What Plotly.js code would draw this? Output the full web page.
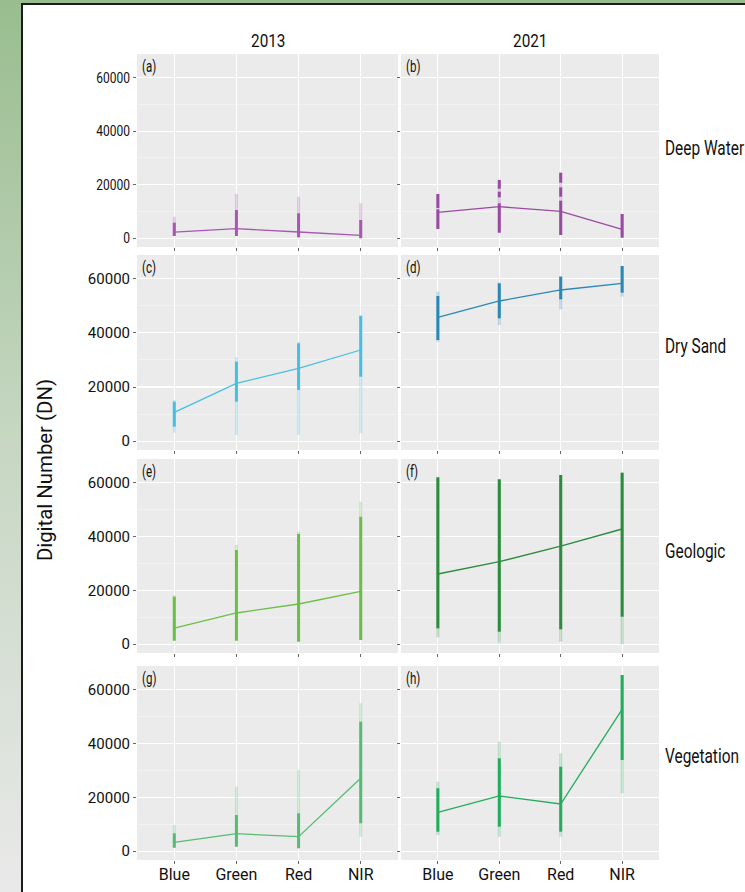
<!DOCTYPE html>
<html>
<head>
<meta charset="utf-8">
<script src="https://cdn.plot.ly/plotly-3.0.1.min.js"></script>
<style>
  html, body { margin: 0; padding: 0; width: 745px; height: 892px; overflow: hidden; }
  #bg { position: absolute; left: 0; top: 0; width: 745px; height: 892px;
        background: linear-gradient(#99bd8f 0%, #c5d6c1 48%, #e9e9e9 100%); }
  #sheet { position: absolute; left: 21px; top: 3px; width: 724px; height: 889px; background: #ffffff;
           border-left: 2px solid #1b1b1b; border-top: 2px solid #1b1b1b; box-sizing: border-box; }
  #plot { position: absolute; left: 0; top: 0; width: 745px; height: 892px; }
</style>
</head>
<body>
<div id="bg"></div>
<div id="sheet"></div>
<div id="plot"></div>
<script>
// ---------------- DATA ----------------
const bands = ['Blue', 'Green', 'Red', 'NIR'];
const years = ['2013', '2021'];
const classes = ['Deep Water', 'Dry Sand', 'Geologic', 'Vegetation'];
const panelTags = ['(a)', '(b)', '(c)', '(d)', '(e)', '(f)', '(g)', '(h)'];
const yTickVals = [0, 20000, 40000, 60000];
const yTickText = ['0', '20000', '40000', '60000'];

// (a) Deep Water 2013
const dw2013Mean = [2300, 3560, 2330, 1090];
const dw2013Core = [[[830, 5800]], [[830, 10540]], [[350, 9310]], [[0, 6810]]];
const dw2013Tail = [[830, 8040], [830, 16520], [350, 15510], [0, 13050]];
// (b) Deep Water 2021
const dw2021Mean = [9680, 11780, 10060, 3330];
const dw2021Core = [[[3450, 10800], [11300, 16520]], [[2060, 13050], [15290, 17380], [18500, 21750]],
                    [[1200, 14020], [15510, 19020], [20740, 24470]], [[200, 9050]]];
const dw2021Tail = [[3450, 16520], [2060, 21750], [1200, 24470], [200, 9050]];
// (c) Dry Sand 2013
const ds2013Mean = [10660, 21380, 26930, 33690];
const ds2013Core = [[[5340, 14580]], [[14580, 29370]], [[18900, 36170]], [[23820, 46260]]];
const ds2013Tail = [[3120, 15210], [2270, 30990], [2270, 36760], [2900, 46630]];
// (d) Dry Sand 2021
const ds2021Mean = [45780, 51810, 55880, 58350];
const ds2021Core = [[[37390, 53660]], [[45410, 58350]], [[52440, 60790]], [[54880, 64750]]];
const ds2021Tail = [[36760, 55250], [42940, 58600], [48740, 61000], [53400, 64750]];
// (e) Geologic 2013
const ge2013Mean = [6010, 11590, 14930, 19650];
const ge2013Core = [[[1290, 17640]], [[1290, 35000]], [[920, 40940]], [[1550, 47370]]];
const ge2013Tail = [[1290, 18280], [1290, 36860], [920, 41800], [1550, 52950]];
// (f) Geologic 2021
const ge2021Mean = [26080, 30650, 36480, 42800];
const ge2021Core = [[[5900, 62010]], [[4640, 61270]], [[5530, 62870]], [[10210, 63720]]];
const ge2021Tail = [[2560, 62010], [550, 61270], [920, 62870], [0, 63720]];
// (g) Vegetation 2013
const ve2013Mean = [3300, 6500, 5380, 27080];
const ve2013Core = [[[1290, 6650]], [[1670, 13450]], [[1070, 14080]], [[10360, 48120]]];
const ve2013Tail = [[1290, 9730], [1670, 23960], [1070, 30170], [5380, 54950]];
// (h) Vegetation 2021
const ve2021Mean = [14450, 20510, 17530, 52720];
const ve2021Core = [[[7240, 23370]], [[9100, 34520]], [[7240, 31390]], [[33880, 65470]]];
const ve2021Tail = [[6010, 25820], [5380, 40680], [5380, 36370], [21510, 65470]];

const panelColors = ['#A957B2', '#9A4AA2', '#47BFE3', '#2A88B4', '#6BBF46', '#2C8C3D', '#55BD72', '#22AD5C'];

// ---------------- BUILD ----------------
const panels = [
  [dw2013Mean, dw2013Core, dw2013Tail], [dw2021Mean, dw2021Core, dw2021Tail],
  [ds2013Mean, ds2013Core, ds2013Tail], [ds2021Mean, ds2021Core, ds2021Tail],
  [ge2013Mean, ge2013Core, ge2013Tail], [ge2021Mean, ge2021Core, ge2021Tail],
  [ve2013Mean, ve2013Core, ve2013Tail], [ve2021Mean, ve2021Core, ve2021Tail]
];

const W = 745, H = 892;
const px = v => v / W;
const py = v => 1 - v / H;
const colPx = [[137, 398], [401, 659]];
const rowPx = [[54, 247], [255, 450], [459, 653], [666, 860]];
const FONT = 'Roboto, Lato, sans-serif';
const TXT = '#111111';

const traces = [];
const layout = {
  width: W, height: H,
  margin: {l: 0, r: 0, t: 0, b: 0},
  paper_bgcolor: 'rgba(0,0,0,0)',
  plot_bgcolor: '#EBEBEB',
  showlegend: false,
  font: {family: FONT, color: TXT},
  annotations: []
};

panels.forEach((p, i) => {
  const [mean, core, tail] = p;
  const row = Math.floor(i / 2), col = i % 2;
  const sfx = i === 0 ? '' : String(i + 1);
  const xa = 'x' + sfx, ya = 'y' + sfx;
  const color = panelColors[i];

  const tx = [], ty = [];
  tail.forEach((r, b) => { tx.push(bands[b], bands[b], null); ty.push(r[0], r[1], null); });
  traces.push({type: 'scatter', mode: 'lines', x: tx, y: ty, xaxis: xa, yaxis: ya,
               line: {color: color, width: 3}, opacity: 0.25, hoverinfo: 'skip'});
  const cx = [], cy = [];
  core.forEach((segs, b) => segs.forEach(s => { cx.push(bands[b], bands[b], null); cy.push(s[0], s[1], null); }));
  traces.push({type: 'scatter', mode: 'lines', x: cx, y: cy, xaxis: xa, yaxis: ya,
               line: {color: color, width: 3}, hoverinfo: 'skip'});
  traces.push({type: 'scatter', mode: 'lines', x: bands, y: mean, xaxis: xa, yaxis: ya,
               line: {color: color, width: 1.3}});

  layout['xaxis' + sfx] = {
    domain: [px(colPx[col][0]), px(colPx[col][1])], anchor: ya,
    type: 'category', categoryorder: 'array', categoryarray: bands,
    range: [-0.6, 3.6], showgrid: true, gridcolor: '#FFFFFF', gridwidth: 1.1,
    zeroline: false, showline: false,
    ticks: 'outside', ticklen: 3, tickwidth: 1, tickcolor: '#666666',
    showticklabels: row === 3, tickfont: {family: FONT, size: 16, color: TXT},
    ticklabelstandoff: -3,
    fixedrange: true
  };
  layout['yaxis' + sfx] = {
    domain: [py(rowPx[row][1]), py(rowPx[row][0])], anchor: xa,
    range: [-3277, 68812], tickmode: 'array', tickvals: yTickVals, ticktext: yTickText,
    showgrid: true, gridcolor: '#FFFFFF', gridwidth: 1.1,
    minor: {tickmode: 'linear', tick0: 0, dtick: 10000, showgrid: true, gridcolor: '#F7F7F7', gridwidth: 0.6, ticks: ''},
    zeroline: false, showline: false,
    ticks: 'outside', ticklen: 3, tickwidth: 1, tickcolor: '#666666',
    showticklabels: col === 0, tickfont: {family: FONT, size: 15, color: TXT},
    fixedrange: true
  };

  layout.annotations.push({
    xref: 'paper', yref: 'paper', x: px(colPx[col][0] + 3), y: py(rowPx[row][0] + 1),
    xanchor: 'left', yanchor: 'top', text: panelTags[i], showarrow: false,
    font: {family: FONT, size: 16, color: TXT}, name: 'tag'
  });
});

[[267.5, years[0]], [530, years[1]]].forEach(([x, t]) => layout.annotations.push({
  xref: 'paper', yref: 'paper', x: px(x), y: py(40), xanchor: 'center', yanchor: 'middle',
  text: t, showarrow: false, font: {family: FONT, size: 18, color: TXT}, name: 'year'
}));
const rowLabelY = [148, 347, 551, 756];
classes.forEach((c, r) => layout.annotations.push({
  xref: 'paper', yref: 'paper', x: px(663), y: py(rowLabelY[r]), xanchor: 'left', yanchor: 'middle',
  text: c, showarrow: false, font: {family: FONT, size: 19.5, color: TXT}, name: 'row'
}));
layout.annotations.push({
  xref: 'paper', yref: 'paper', x: px(45), y: py(470), xanchor: 'center', yanchor: 'middle',
  text: 'Digital Number (DN)', textangle: -90, showarrow: false, font: {family: FONT, size: 21, color: TXT}, name: 'ytitle'
});

// horizontal condensing factors (the reference uses a condensed face)
const squeeze = {tag: 0.72, year: 0.85, row: 0.79, ytitle: 0.97, xtick: 0.8, ytick: 0.8};

Plotly.newPlot('plot', traces, layout, {staticPlot: true, displayModeBar: false}).then(gd => {
  const condense = (t, pivot, k) => {
    const prev = t.getAttribute('transform') || '';
    t.setAttribute('transform', prev + ' translate(' + pivot + ',0) scale(' + k + ',1) translate(' + (-pivot) + ',0)');
  };
  gd.querySelectorAll('g.xtick text').forEach(t => condense(t, parseFloat(t.getAttribute('x')) || 0, squeeze.xtick));
  gd.querySelectorAll('g.ytick text').forEach(t => condense(t, parseFloat(t.getAttribute('x')) || 0, squeeze.ytick));
  gd.querySelectorAll('g.annotation').forEach(g => {
    const ann = layout.annotations[+g.getAttribute('data-index')];
    const t = g.querySelector('text');
    if (!ann || !t) return;
    const bb = t.getBBox();
    const pivot = ann.xanchor === 'left' ? bb.x : ann.xanchor === 'right' ? bb.x + bb.width : bb.x + bb.width / 2;
    condense(t, pivot, squeeze[ann.name] || 1);
  });
});
</script>
</body>
</html>
